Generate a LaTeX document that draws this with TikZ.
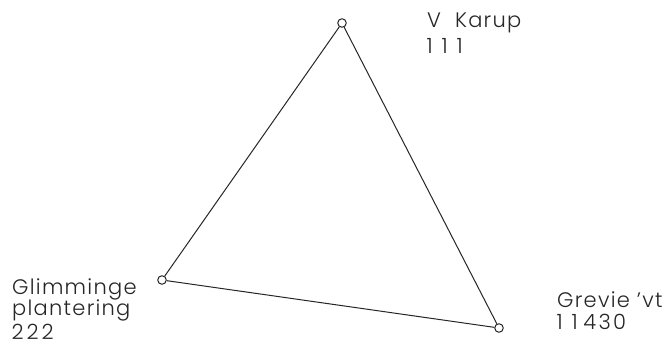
\documentclass[tikz,border=0pt]{standalone}
\usepackage{fontspec}
\IfFontExistsTF{Poppins Light}{\setmainfont{Poppins Light}[LetterSpace=6,Numbers=Monospaced]}{\setmainfont{Poppins}[LetterSpace=6,Numbers=Monospaced]}
\newcommand\dgt[1]{\makebox[15pt][c]{#1}}
\begin{document}
\begin{tikzpicture}[x=1pt,y=-1pt,
  edge/.style={line width=1pt,draw=black!85},
  station/.style={circle,draw=black!85,line width=1pt,minimum size=8.5pt,inner sep=0pt},
  lbl/.style={anchor=base west,inner sep=0pt,text=black!85,
    font=\fontsize{21}{22}\selectfont}]
\useasboundingbox (0,0) rectangle (670,345);
\node[station] (K) at (342,23) {};
\node[station] (G) at (162,280) {};
\node[station] (V) at (499,328) {};
\draw[edge] (K) -- (G) -- (V) -- (K);
\node[lbl] (lK1) at (427,28) {V\ \ Karup};
\node[lbl] (lK2) at (422,54) {\dgt{1}\dgt{1}\dgt{1}};
\node[lbl] (lG1) at (12,294) {Glimminge};
\node[lbl] (lG2) at (12,315) {plantering};
\node[lbl] (lG3) at (10,339) {\dgt{2}\dgt{2}\dgt{2}};
\node[lbl] (lV1) at (557,307) {Grevie 'vt};
\node[lbl] (lV2) at (552,329) {\dgt{1}\dgt{1}\dgt{4}\dgt{3}\dgt{0}};
\end{tikzpicture}
\end{document}
